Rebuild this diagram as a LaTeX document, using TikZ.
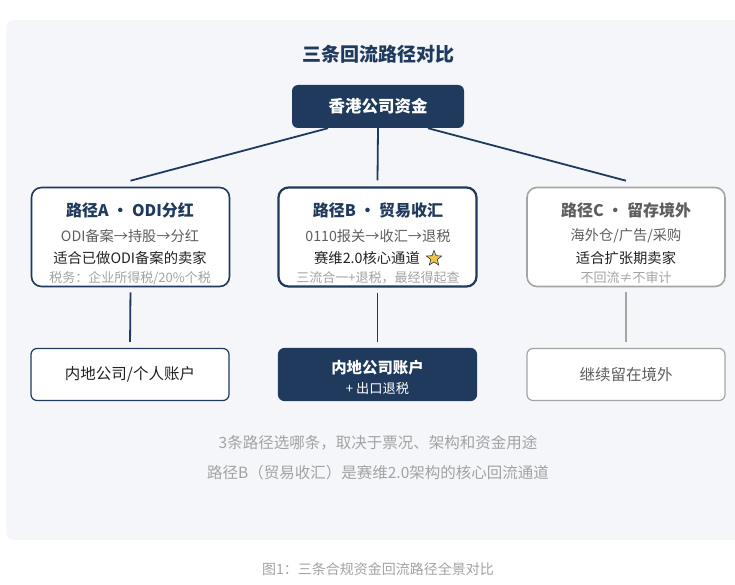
\documentclass[tikz,border=0pt]{standalone}
\usepackage{fontspec}
\setmainfont{Noto Sans CJK SC}
\usetikzlibrary{shapes.geometric}
\definecolor{navy}{HTML}{1F3A5C}
\definecolor{panel}{HTML}{F4F6FA}
\definecolor{midgray}{HTML}{5E5E5E}
\definecolor{lightgray}{HTML}{A3A3A3}
\definecolor{darktext}{HTML}{222222}
\definecolor{cborder}{HTML}{A5A5A5}
\definecolor{stargold}{HTML}{F6C445}
\tikzset{
  box/.style={draw=navy, line width=1.6pt, fill=white, rounded corners=10pt, minimum width=198pt, minimum height=99pt, inner sep=0pt},
  boxB/.style={box, line width=2.2pt},
  boxC/.style={box, draw=cborder},
  lowbox/.style={draw=navy, line width=1.2pt, fill=white, rounded corners=6pt, minimum width=198pt, minimum height=52pt, inner sep=0pt},
  ttl/.style={font=\fontsize{16}{18}\selectfont\bfseries, text=navy, inner sep=0pt, anchor=center},
  ln2/.style={font=\fontsize{14.2}{16}\selectfont, text=midgray, inner sep=0pt},
  ln3/.style={font=\fontsize{14.3}{16}\selectfont, text=darktext, inner sep=0pt},
  ln4/.style={font=\fontsize{13}{15}\selectfont, text=lightgray, inner sep=0pt},
  conn/.style={draw=navy, line width=1.8pt},
  note/.style={font=\fontsize{15.5}{17}\selectfont, text=lightgray, inner sep=0pt},
}
\begin{document}
\begin{tikzpicture}[x=1pt, y=-1pt]
\useasboundingbox (0,0) rectangle (735,585);
\fill[white] (0,0) rectangle (735,585);
\fill[panel, rounded corners=8pt] (6,20) rectangle (750,540);
\node[font=\fontsize{19}{21}\selectfont\bfseries, text=navy, inner sep=0pt] (title) at (378,54) {三条回流路径对比};

\node[fill=navy, rounded corners=6pt, minimum width=172pt, minimum height=43pt, inner sep=0pt, text=white, font=\fontsize{16.5}{18}\selectfont\bfseries] (top) at (378,106.5) {香港公司资金};

\node[box] (A) at (130.5,237) {};
\node[boxB] (B) at (377.5,237) {};
\node[boxC] (C) at (626,237) {};

\draw[conn] ([xshift=-50pt]top.south) -- ([yshift=6pt]A.north);
\draw[conn] (top.south) -- ([yshift=6pt]B.north);
\draw[conn] ([xshift=50pt]top.south) -- ([yshift=6pt]C.north);

% Box A texts
\node[ttl] (At) at (130,210) {路径A • ODI分红};
\node[ln2] (A2) at (130,236) {ODI备案→持股→分红};
\node[ln3] (A3) at (130,258) {适合已做ODI备案的卖家};
\node[ln4] (A4) at (130,278) {税务：企业所得税/20\%个税};

% Box B texts
\node[ttl] (Bt) at (378,210) {路径B • 贸易收汇};
\node[ln2] (B2) at (378,236) {0110报关→收汇→退税};
\node[ln3, anchor=east] (B3) at (420,258) {赛维2.0核心通道};
\node[star, star points=5, star point ratio=2.3, minimum size=16pt, inner sep=0pt, fill=stargold, draw=navy, line width=0.6pt] (star) at (434,258.5) {};
\node[ln4] (B4) at (378,278) {三流合一+退税，最经得起查};

% Box C texts
\node[ttl, text=midgray] (Ct) at (626,210) {路径C • 留存境外};
\node[ln2] (C2) at (626,236) {海外仓/广告/采购};
\node[ln3] (C3) at (626,258) {适合扩张期卖家};
\node[ln4] (C4) at (626,278) {不回流≠不审计};

% Lower boxes
\node[lowbox] (LA) at (130,374.5) {};
\node[font=\fontsize{15.5}{17}\selectfont, text=darktext, inner sep=0pt] (LAt) at (130,374.5) {内地公司/个人账户};
\node[lowbox, fill=navy] (LB) at (377.5,374.5) {};
\node[font=\fontsize{15.4}{17}\selectfont\bfseries, text=white, inner sep=0pt] (LBt) at (377.5,368) {内地公司账户};
\node[font=\fontsize{13.2}{15}\selectfont, text=white, inner sep=0pt] (LBs) at (377.5,389) {+ 出口退税};
\node[lowbox, draw=cborder] (LC) at (626,374.5) {};
\node[font=\fontsize{15.5}{17}\selectfont, text=midgray, inner sep=0pt] (LCt) at (626,374.5) {继续留在境外};

\draw[conn, shorten <=5pt, shorten >=6pt] (A.south) -- (LA.north);
\draw[conn, shorten <=5pt, shorten >=6pt] (B.south) -- (LB.north);
\draw[conn, draw=cborder, shorten <=5pt, shorten >=6pt] (C.south) -- (LC.north);

\node[note] (n1) at (378,443) {3条路径选哪条，取决于票况、架构和资金用途};
\node[note] (n2) at (378,473) {路径B（贸易收汇）是赛维2.0架构的核心回流通道};
\node[font=\fontsize{14}{16}\selectfont, text=lightgray, inner sep=0pt] (cap) at (378,569) {图1：三条合规资金回流路径全景对比};
\end{tikzpicture}
\end{document}
